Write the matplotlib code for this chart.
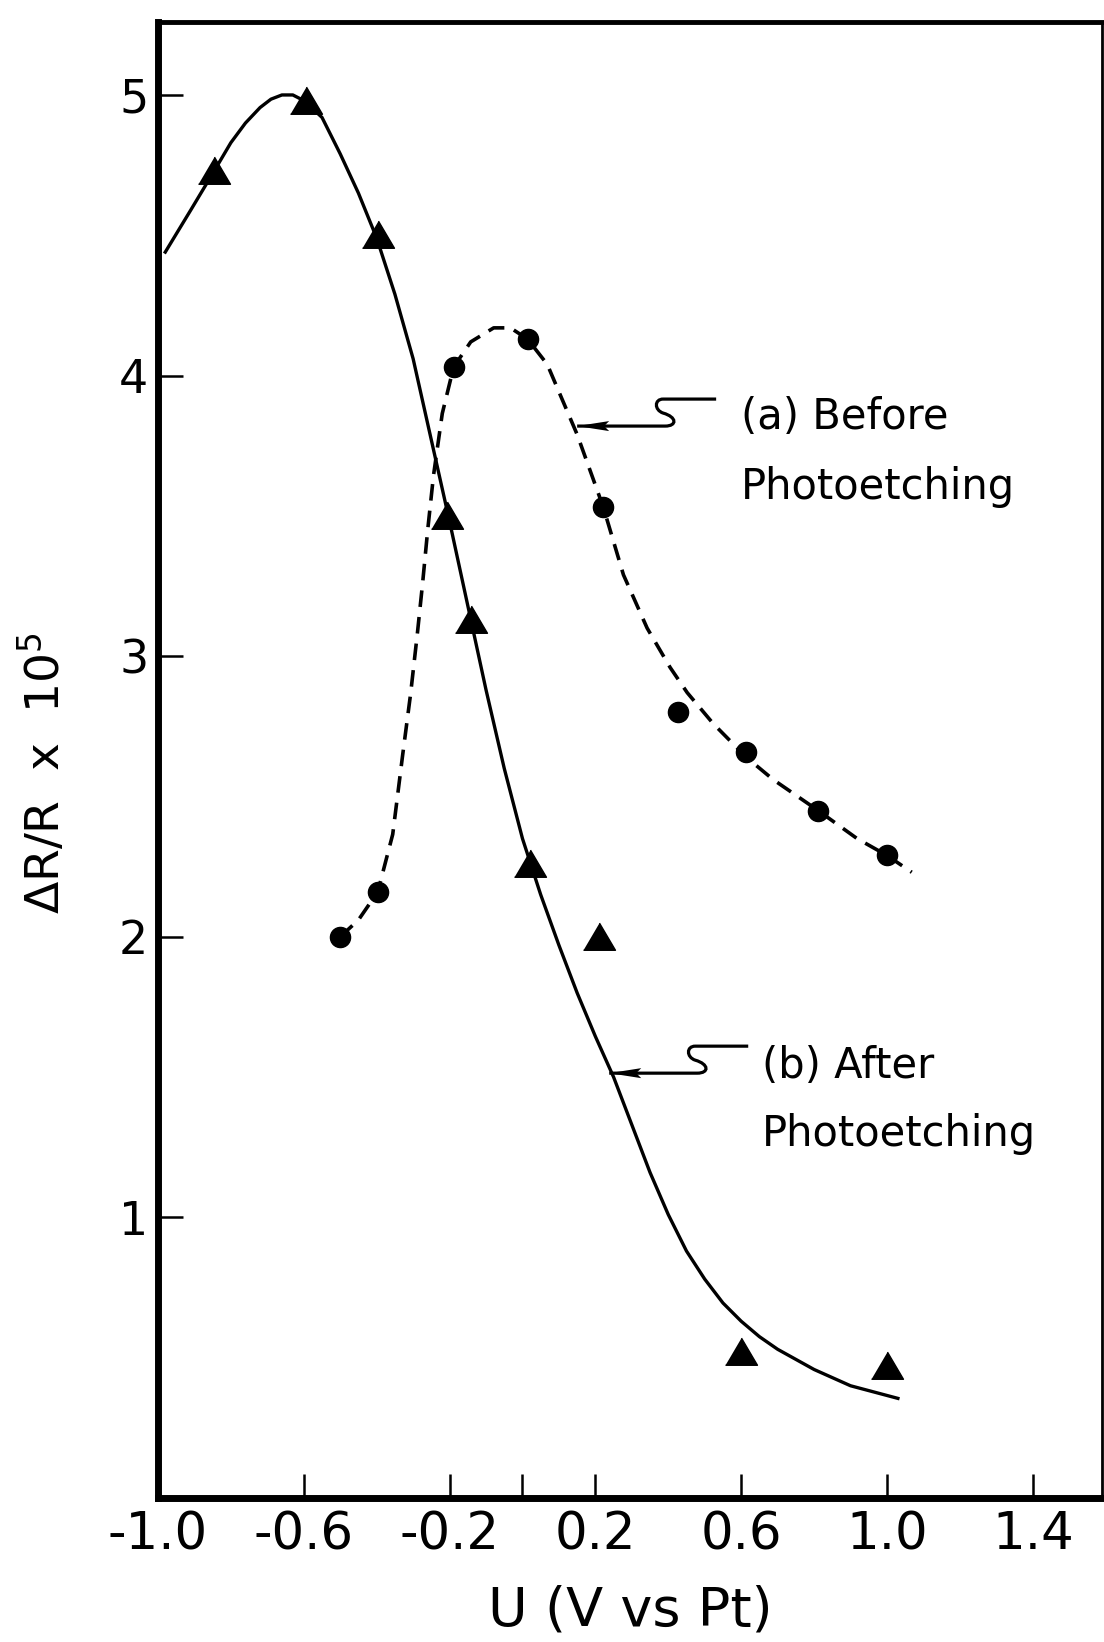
import matplotlib
matplotlib.use("Agg")
import matplotlib.pyplot as plt
import matplotlib.transforms as mtransforms
from matplotlib.path import Path
from matplotlib.patches import PathPatch, Polygon

# Electroreflectance signal vs electrode potential,
# before (a) and after (b) photoetching

# measured points, (a) before photoetching
u_before = [-0.50, -0.397, -0.189, 0.014, 0.222, 0.427, 0.614, 0.811, 1.0]
dr_before = [2.0, 2.16, 4.03, 4.13, 3.53, 2.80, 2.66, 2.45, 2.29]

# measured points, (b) after photoetching
u_after = [-0.847, -0.595, -0.397, -0.206, -0.142, 0.02, 0.21, 0.60, 1.0]
dr_after = [4.73, 4.98, 4.50, 3.50, 3.13, 2.26, 2.0, 0.52, 0.47]

# hand drawn guide curves
guide_before_u = [-0.50, -0.45, -0.397, -0.356, -0.329, -0.307, -0.288, -0.274,
                  -0.26, -0.244, -0.22, -0.189, -0.142, -0.079, -0.033, 0.014,
                  0.068, 0.104, 0.15, 0.186, 0.222, 0.277, 0.342, 0.405, 0.452,
                  0.523, 0.614, 0.688, 0.811, 0.918, 1.0, 1.068]
guide_before_dr = [2.0, 2.06, 2.16, 2.365, 2.645, 2.865, 3.085, 3.26,
                   3.45, 3.645, 3.865, 4.03, 4.12, 4.17, 4.17, 4.13,
                   4.04, 3.93, 3.79, 3.66, 3.53, 3.29, 3.10, 2.96, 2.87,
                   2.76, 2.64, 2.56, 2.45, 2.35, 2.29, 2.23]

guide_after_u = [-0.98, -0.91, -0.85, -0.80, -0.76, -0.72, -0.69, -0.66, -0.63,
                 -0.6, -0.55, -0.5, -0.45, -0.4, -0.35, -0.3, -0.25, -0.2, -0.15,
                 -0.1, -0.05, 0.0, 0.05, 0.1, 0.15, 0.2, 0.25, 0.3, 0.35, 0.4,
                 0.45, 0.5, 0.55, 0.6, 0.65, 0.7, 0.8, 0.9, 1.03]
guide_after_dr = [4.44, 4.59, 4.72, 4.83, 4.90, 4.955, 4.985, 5.0, 5.0,
                  4.98, 4.92, 4.79, 4.65, 4.49, 4.29, 4.06, 3.77, 3.48, 3.18,
                  2.88, 2.60, 2.35, 2.15, 1.97, 1.80, 1.645, 1.50, 1.33, 1.16, 1.01,
                  0.88, 0.78, 0.695, 0.63, 0.575, 0.53, 0.458, 0.40, 0.355]

xticks = [-1.0, -0.6, -0.2, 0.0, 0.2, 0.6, 1.0, 1.4]
xtick_labels = ["-1.0", "-0.6", "-0.2", "", "0.2", "0.6", "1.0", "1.4"]
yticks = [1, 2, 3, 4, 5]
ytick_labels = ["1", "2", "3", "4", "5"]

fig = plt.figure(figsize=(11.04, 16.42), dpi=100)
ax = fig.add_axes([0.1431, 0.0877, 0.8551, 0.8989])

ax.plot(guide_after_u, guide_after_dr, color="black", lw=2.4)
ax.plot(guide_before_u, guide_before_dr, color="black", lw=2.6,
        linestyle=(0, (4.6, 2.8)))

tri = [(-1, -0.8), (1, -0.8), (0, 0.9)]
ax.plot(u_after, dr_after, linestyle="none", marker=tri, ms=23, color="black")
ax.plot(u_before, dr_before, linestyle="none", marker="o", ms=14.5, color="black")

ax.set_xlim(-1.0, 1.59)
ax.set_ylim(0.0, 5.26)

ax.set_xticks(xticks)
ax.set_xticklabels(xtick_labels)
ax.set_yticks(yticks)
ax.set_yticklabels(ytick_labels)
ax.tick_params(axis="x", direction="in", length=17, width=1.8, pad=9, labelsize=37)
ax.tick_params(axis="y", direction="in", length=18, width=1.8, pad=7, labelsize=33)

ax.spines["left"].set_linewidth(5)
ax.spines["bottom"].set_linewidth(5)
ax.spines["top"].set_linewidth(3.5)
ax.spines["right"].set_linewidth(2)


def callout(tip):
    # S-shaped leader with arrow, drawn in pixel offsets from the tip
    trans = (mtransforms.Affine2D().scale(1, -1)
             + mtransforms.ScaledTranslation(tip[0], tip[1], ax.transData))
    verts = [(139, -27), (86, -27), (77, -27), (77, -16), (86, -13),
             (100, -9), (100, 0), (88, 0), (0, 0)]
    codes = [Path.MOVETO, Path.LINETO, Path.CURVE4, Path.CURVE4, Path.CURVE4,
             Path.CURVE4, Path.CURVE4, Path.CURVE4, Path.LINETO]
    ax.add_patch(PathPatch(Path(verts, codes), transform=trans,
                           fill=False, lw=2.3, color="black"))
    head = [(0, 0), (32, -5), (27, 0), (32, 5)]
    ax.add_patch(Polygon(head, closed=True, transform=trans,
                         color="black", lw=0))


callout((0.15, 3.82))
ax.text(0.600, 3.809, "(a) Before", fontsize=30, ha="left", va="baseline")
ax.text(0.600, 3.560, "Photoetching", fontsize=30, ha="left", va="baseline")

callout((0.238, 1.514))
ax.text(0.658, 1.496, "(b) After", fontsize=30, ha="left", va="baseline")
ax.text(0.658, 1.255, "Photoetching", fontsize=30, ha="left", va="baseline")

fig.text(0.040, 0.529, "ΔR/R  x  10$^5$", rotation=90, fontsize=34,
         ha="center", va="center")
fig.text(0.571, 0.010, "U (V vs Pt)", fontsize=39, ha="center", va="baseline")

fig.savefig("out.png", dpi=100)
